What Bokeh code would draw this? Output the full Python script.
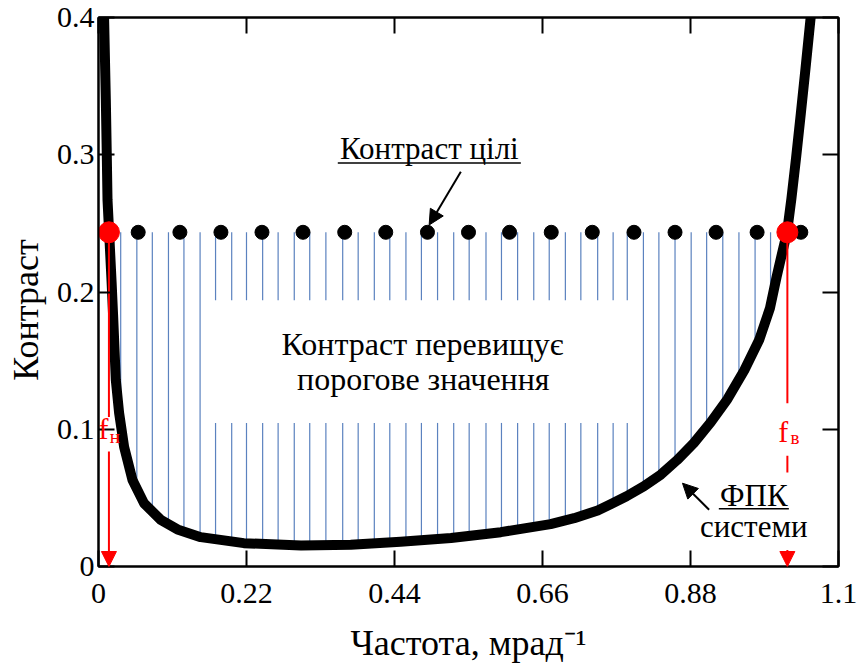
import numpy as np
from bokeh.plotting import figure
from bokeh.models import Range1d, LinearAxis, FixedTicker, Label, Arrow, NormalHead
from bokeh.embed import file_html
from bokeh.resources import INLINE

# ---- data ----
# threshold-contrast curve of the system (ФПК системи)
curve_x = [0.0083, 0.0109, 0.0123, 0.0134, 0.0158, 0.0195, 0.0217, 0.0257, 0.0306, 0.0381,
           0.0505, 0.0678, 0.0926, 0.1174, 0.1520, 0.2160, 0.3010, 0.3750, 0.4490, 0.5240,
           0.5980, 0.6720, 0.7070, 0.7420, 0.7620, 0.7850, 0.8110, 0.8360, 0.8600, 0.8850,
           0.9100, 0.9350, 0.9600, 0.9820, 0.9980, 1.0080, 1.0160, 1.0235, 1.0300, 1.0370,
           1.0440, 1.0510, 1.0580, 1.0620]
curve_y = [0.400, 0.340, 0.300, 0.267, 0.2435, 0.207, 0.183, 0.136, 0.112, 0.087,
           0.063, 0.046, 0.034, 0.027, 0.0214, 0.0170, 0.0153, 0.0158, 0.0180, 0.0207,
           0.0250, 0.0309, 0.0352, 0.0408, 0.0455, 0.0512, 0.0585, 0.0670, 0.0775, 0.0900,
           0.105, 0.122, 0.143, 0.165, 0.188, 0.211, 0.228, 0.2435, 0.268, 0.298,
           0.330, 0.363, 0.397, 0.416]

# target contrast (Контраст цілі) markers
target_x = [0.059, 0.121, 0.182, 0.243, 0.304, 0.366, 0.427, 0.489, 0.550, 0.611,
            0.673, 0.734, 0.796, 0.857, 0.918, 0.979, 1.044]
target_contrast = 0.2435

# frequencies where contrast exceeds threshold (hatched band)
hatch_x = [0.033, 0.057, 0.080, 0.104, 0.127, 0.151, 0.174, 0.198, 0.220, 0.244,
           0.267, 0.291, 0.314, 0.338, 0.363, 0.386, 0.410, 0.433, 0.457, 0.480,
           0.504, 0.528, 0.551, 0.576, 0.599, 0.623, 0.647, 0.670, 0.694, 0.717,
           0.742, 0.765, 0.786, 0.810, 0.833, 0.857, 0.881, 0.904, 0.928, 0.952,
           0.976, 0.999]

# lower and upper limiting frequencies
f_low = 0.0155
f_high = 1.024

x_ticks = [0, 0.22, 0.44, 0.66, 0.88, 1.1]
x_tick_labels = ["0", "0.22", "0.44", "0.66", "0.88", "1.1"]
y_ticks = [0, 0.1, 0.2, 0.3, 0.4]
y_tick_labels = ["0", "0.1", "0.2", "0.3", "0.4"]

FONT = "Liberation Serif"
NBSP = "\u00a0"

p = figure(width=863, height=665, output_backend="svg", toolbar_location=None,
           x_range=Range1d(0, 1.1), y_range=Range1d(0, 0.4),
           min_border_left=98, min_border_right=25, min_border_top=17, min_border_bottom=98)
p.xgrid.visible = False
p.ygrid.visible = False
p.outline_line_color = "black"
p.outline_line_width = 2
p.background_fill_color = "white"
p.border_fill_color = "white"

xax = p.below[0]
yax = p.left[0]


def style_axis(ax, ticks, labels, show_labels, standoff):
    ax.ticker = FixedTicker(ticks=ticks)
    ax.major_label_overrides = {t: l for t, l in zip(ticks, labels)}
    ax.major_tick_in = 16
    ax.major_tick_out = 0
    ax.major_tick_line_width = 2
    ax.major_tick_line_color = "black"
    ax.minor_tick_line_color = None
    ax.axis_line_width = 2
    ax.axis_line_color = "black"
    ax.major_label_text_font = FONT
    ax.major_label_standoff = standoff
    if show_labels:
        ax.major_label_text_font_size = "30px"
        ax.major_label_text_color = "black"
    else:
        ax.major_label_text_font_size = "1px"
        ax.major_label_text_color = None


style_axis(xax, x_ticks, x_tick_labels, True, 17)
style_axis(yax, y_ticks, y_tick_labels, True, 4)
top_ax = LinearAxis()
right_ax = LinearAxis()
style_axis(top_ax, x_ticks, x_tick_labels, False, 0)
style_axis(right_ax, y_ticks, y_tick_labels, False, 0)
p.add_layout(top_ax, "above")
p.add_layout(right_ax, "right")

# axis titles
xax.axis_label = "Частота, мрад\u207b\u00b9"
yax.axis_label = "Контраст" + NBSP * 4
for ax in (xax, yax):
    ax.axis_label_text_font = FONT
    ax.axis_label_text_font_size = "36px"
    ax.axis_label_text_font_style = "normal"
    ax.axis_label_text_color = "black"
xax.axis_label_text_line_height = 0.7
xax.axis_label_standoff = 17
yax.axis_label_standoff = 8

# ---- hatched region (vertical blue lines from curve up to target contrast) ----
gap_x0, gap_x1, gap_y0, gap_y1 = 0.170, 0.790, 0.1046, 0.194
hx = np.array(hatch_x)
hy_bottom = np.interp(hx, curve_x, curve_y)
x0s, y0s, x1s, y1s = [], [], [], []
for xv, yb in zip(hx, hy_bottom):
    if gap_x0 <= xv <= gap_x1:
        x0s += [xv, xv]; y0s += [yb, gap_y1]
        x1s += [xv, xv]; y1s += [gap_y0, target_contrast]
    else:
        x0s.append(xv); y0s.append(yb); x1s.append(xv); y1s.append(target_contrast)
p.segment(x0=x0s, y0=y0s, x1=x1s, y1=y1s, line_color="#5b82bf", line_width=1.2)

# ---- curve ----
p.line(curve_x, curve_y, line_color="black", line_width=10, line_join="round")

# ---- target contrast markers ----
p.scatter(target_x, [target_contrast] * len(target_x), size=14, color="black")

# ---- red limiting-frequency markers ----
RED = "#ff0000"
p.segment(x0=[f_low, f_high, f_high], y0=[target_contrast, target_contrast, 0.0807],
          x1=[f_low, f_high, f_high], y1=[0.109, 0.119, 0.0684],
          line_color=RED, line_width=2)
p.add_layout(Arrow(end=NormalHead(size=15, fill_color=RED, line_color=RED),
                   x_start=f_low, y_start=0.0837, x_end=f_low, y_end=0.0,
                   line_color=RED, line_width=2))
p.add_layout(Arrow(end=NormalHead(size=15, fill_color=RED, line_color=RED),
                   x_start=f_high, y_start=0.012, x_end=f_high, y_end=0.0,
                   line_color=RED, line_width=2))
p.scatter([f_low, f_high], [target_contrast, target_contrast], size=21, color=RED)


def add_label(x, y, text, size, color="black", align="center"):
    p.add_layout(Label(x=x, y=y, text=text, text_font=FONT, text_font_size=size,
                       text_color=color, text_align=align, text_baseline="middle"))


# f labels
add_label(0.0000, 0.1009, "f", "30px", RED, "left")
add_label(0.0168, 0.0946, "н", "19px", RED, "left")
add_label(1.0105, 0.0982, "f", "30px", RED, "left")
add_label(1.0285, 0.0941, "в", "19px", RED, "left")

# annotations
add_label(0.4918, 0.3043, "Контраст цілі", "31px")
p.segment(x0=[0.3557, 0.9221], y0=[0.2939, 0.0420], x1=[0.6278, 1.0262], y1=[0.2939, 0.0420],
          line_color="black", line_width=1.5)
add_label(0.4816, 0.1620, "Контраст перевищує", "32px")
add_label(0.4828, 0.1365, "порогове значення", "32px")
add_label(0.9741, 0.0518, "ФПК", "31px")
add_label(0.9741, 0.0295, "системи", "31px")

p.add_layout(Arrow(end=NormalHead(size=15, fill_color="black", line_color="black"),
                   x_start=0.5386, y_start=0.2876, x_end=0.4915, y_end=0.2488,
                   line_color="black", line_width=2))
p.add_layout(Arrow(end=NormalHead(size=15, fill_color="black", line_color="black"),
                   x_start=0.9077, y_start=0.0413, x_end=0.8681, y_end=0.0607,
                   line_color="black", line_width=2))

open("out.html", "w").write(file_html(p, INLINE))
